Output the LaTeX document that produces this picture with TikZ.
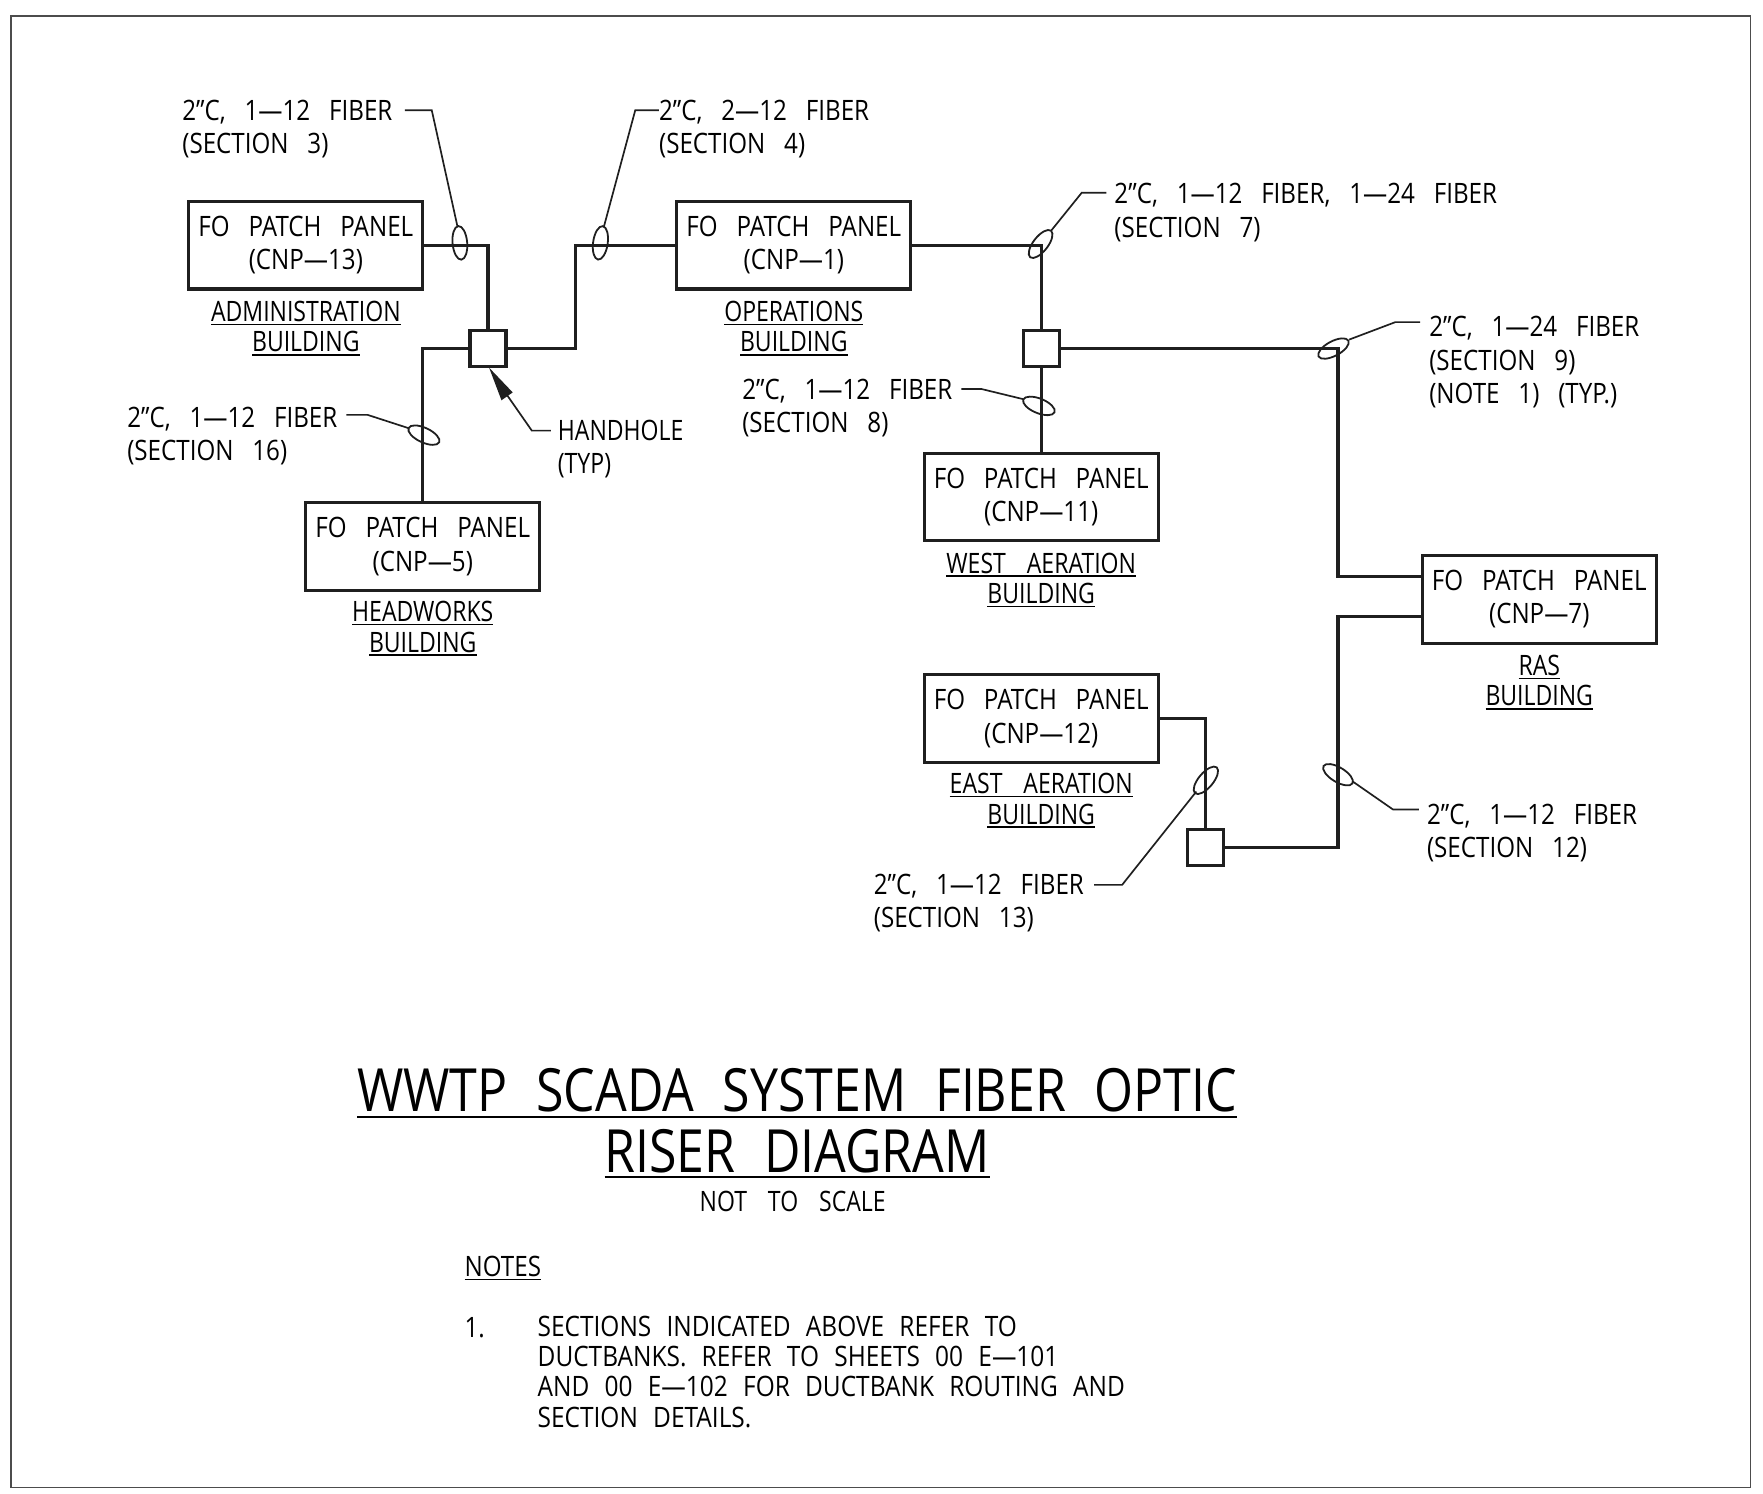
\documentclass[tikz,border=0pt]{standalone}
\usepackage{fontspec}
\setmainfont{Open Sans}[WordSpace=3.0,FakeStretch=0.86]
\newfontfamily\titlefont{Open Sans}[WordSpace=2.2,FakeStretch=0.84]
\newfontfamily\capfont{Open Sans}[WordSpace=3.5,FakeStretch=0.82]
\newfontfamily\notefont{Open Sans}[WordSpace=2.4,FakeStretch=0.87,Ligatures=TeX]
\usetikzlibrary{arrows.meta}
\newcommand{\fs}{\fontsize{25}{29.5}\selectfont}
\newcommand{\fsb}{\capfont\fontsize{25}{27}\selectfont}
\newcommand{\fsn}{\notefont\fontsize{25}{27}\selectfont}
\newcommand{\ul}[1]{\leavevmode\vtop{\hbox{#1}\kern1.6pt\hrule height 1.5pt}}
\newcommand{\ult}[1]{\leavevmode\vtop{\hbox{#1}\kern3pt\hrule height 2pt}}
\tikzset{
 x=1pt,y=-1pt,
 wire/.style={line width=2.8pt,black!88},
 panel/.style={draw=black!88,line width=2.8pt,minimum width=208pt,minimum height=78pt,align=center,inner sep=0pt,font=\fs},
 hole/.style={draw=black!88,line width=2.8pt,minimum size=32pt,inner sep=0pt},
 lab/.style={align=left,anchor=west,inner sep=0pt,font=\fs},
 bcap/.style={align=center,inner sep=0pt,font=\fsb},
 lead/.style={line width=1.5pt,black!88},
 oval/.style={line width=1.6pt,black!88},
 bigt/.style={inner sep=0pt,font=\titlefont\fontsize{53}{56}\selectfont},
}
\begin{document}
\begin{tikzpicture}
\useasboundingbox (0,0) rectangle (1568,1328);
\fill[white] (0,0) rectangle (1568,1328);
\draw[line width=1.4pt,black!70] (10,14) rectangle (1557,1323);
\node[panel] (p13) at (272,218) {FO PATCH PANEL\\(CNP---13)};
\node[panel] (p1) at (706,218) {FO PATCH PANEL\\(CNP---1)};
\node[panel] (p5) at (376,486) {FO PATCH PANEL\\(CNP---5)};
\node[panel] (p11) at (926,442) {FO PATCH PANEL\\(CNP---11)};
\node[panel] (p12) at (926,639) {FO PATCH PANEL\\(CNP---12)};
\node[panel] (p7) at (1369,533) {FO PATCH PANEL\\(CNP---7)};
\node[hole] (h1) at (434,310) {};
\node[hole] (h2) at (926,310) {};
\node[hole] (h3) at (1072,754) {};
\node[bcap] (b13) at (272,292) {\ul{ADMINISTRATION}\\\ul{BUILDING}};
\node[bcap] (b1) at (706,292) {\ul{OPERATIONS}\\\ul{BUILDING}};
\node[bcap] (b5) at (376,559) {\ul{HEADWORKS}\\\ul{BUILDING}};
\node[bcap] (b11) at (926,516) {\ul{WEST AERATION}\\\ul{BUILDING}};
\node[bcap] (b12) at (926,712) {\ul{EAST AERATION}\\\ul{BUILDING}};
\node[bcap] (b7) at (1369,607) {\ul{RAS}\\\ul{BUILDING}};
\draw[wire] (p13.east) -- (434,218) -- (h1.north);
\draw[wire] (h1.east) -- (512,310) -- (512,218) -- (p1.west);
\draw[wire] (h1.west) -- (376,310) -- (p5.north);
\draw[wire] (p1.east) -- (926,218) -- (h2.north);
\draw[wire] (h2.south) -- (p11.north);
\draw[wire] (h2.east) -- (1190,310) -- (1190,513) -- (p7.west |- 0,513);
\draw[wire] (p7.west |- 0,548) -- (1190,548) -- (1190,754) -- (h3.east);
\draw[wire] (p12.east) -- (1072,639) -- (h3.north);
\node[lab] (t3) at (162,115) {2"C, 1---12 FIBER\\(SECTION 3)};
\node[lab] (t4) at (586,115) {2"C, 2---12 FIBER\\(SECTION 4)};
\node[lab] (t7) at (991,189) {2"C, 1---12 FIBER, 1---24 FIBER\\(SECTION 7)};
\node[lab] (t9) at (1271,322) {2"C, 1---24 FIBER\\(SECTION 9)\\(NOTE 1) (TYP.)};
\node[lab] (t8) at (660,363) {2"C, 1---12 FIBER\\(SECTION 8)};
\node[lab] (t16) at (113,388) {2"C, 1---12 FIBER\\(SECTION 16)};
\node[lab] (t12) at (1269,741) {2"C, 1---12 FIBER\\(SECTION 12)};
\node[lab] (t13) at (777,803) {2"C, 1---12 FIBER\\(SECTION 13)};
\node[lab,font=\fsb] (th) at (496,399) {HANDHOLE\\[2.5pt](TYP)};
\draw[oval,rotate around={5:(409,216)}] (409,216) ellipse[x radius=6.5,y radius=15];
\draw[oval,rotate around={-8:(534,216)}] (534,216) ellipse[x radius=6.5,y radius=15];
\draw[oval,rotate around={-38:(925.5,217)}] (925.5,217) ellipse[x radius=6.5,y radius=15];
\draw[oval,rotate around={-62:(1186,310)}] (1186,310) ellipse[x radius=6.5,y radius=15];
\draw[oval,rotate around={68:(924,361)}] (924,361) ellipse[x radius=6.5,y radius=15];
\draw[oval,rotate around={65:(377,387)}] (377,387) ellipse[x radius=6.5,y radius=15];
\draw[oval,rotate around={59:(1190,689)}] (1190,689) ellipse[x radius=6.5,y radius=15];
\draw[oval,rotate around={-40:(1072.5,694)}] (1072.5,694) ellipse[x radius=6.5,y radius=15];
\coordinate (c3a) at (360,98); \coordinate (c3b) at (384,98); \coordinate (c3c) at (407,202);
\draw[lead] (c3a) -- (c3b) -- (c3c);
\coordinate (c4a) at (586,98); \coordinate (c4b) at (565,98); \coordinate (c4c) at (537,202);
\draw[lead] (c4a) -- (c4b) -- (c4c);
\coordinate (c7a) at (984,171.5); \coordinate (c7b) at (962,171.5); \coordinate (c7c) at (935,205);
\draw[lead] (c7a) -- (c7b) -- (c7c);
\coordinate (c9a) at (1263,286.5); \coordinate (c9b) at (1241,286.5); \coordinate (c9c) at (1200,302);
\draw[lead] (c9a) -- (c9b) -- (c9c);
\coordinate (c8a) at (855,346); \coordinate (c8b) at (873,346); \coordinate (c8c) at (910,355);
\draw[lead] (c8a) -- (c8b) -- (c8c);
\coordinate (c16a) at (308,369); \coordinate (c16b) at (327,369); \coordinate (c16c) at (364,381);
\draw[lead] (c16a) -- (c16b) -- (c16c);
\coordinate (c12a) at (1262,720); \coordinate (c12b) at (1239,720); \coordinate (c12c) at (1203,695);
\draw[lead] (c12a) -- (c12b) -- (c12c);
\coordinate (c13a) at (973,787); \coordinate (c13b) at (998,787); \coordinate (c13c) at (1064,704);
\draw[lead] (c13a) -- (c13b) -- (c13c);
\coordinate (ca) at (490,383); \coordinate (cb) at (473,383); \coordinate (cc) at (450,350);
\draw[lead] (ca) -- (cb) -- (cc);
\fill[black!88] (435,327) -- (456,349) -- (446,356) -- cycle;
\node[bigt] (title) at (709,972.5) {\ult{WWTP SCADA SYSTEM FIBER OPTIC}};
\node[bigt] (title2) at (709,1026) {\ult{RISER DIAGRAM}};
\node[bcap] (nts) at (705,1068.5) {NOT TO SCALE};
\node[lab] (notes) at (413,1128) {\ul{NOTES}};
\node[lab] (n1) at (413,1181) {1.};
\node[anchor=north west,inner sep=0pt,align=left,font=\fsn] (nt) at (478,1170) {SECTIONS INDICATED ABOVE REFER TO\\DUCTBANKS. REFER TO SHEETS 00 E---101\\AND 00 E---102 FOR DUCTBANK ROUTING AND\\SECTION DETAILS.};
\end{tikzpicture}
\end{document}
